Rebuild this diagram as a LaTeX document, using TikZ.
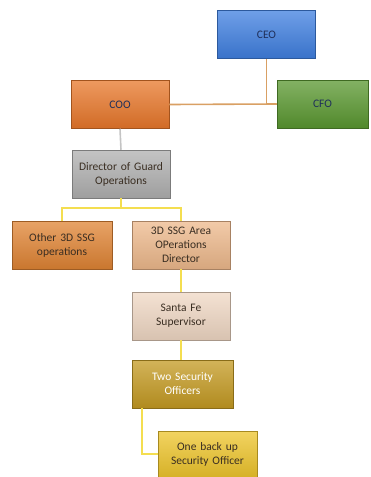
\documentclass[tikz,border=0pt]{standalone}
\usepackage{fontspec}
\setmainfont{Carlito}
\definecolor{ceoc}{HTML}{3F7FE0}
\definecolor{cfoc}{HTML}{5A9830}
\definecolor{cooc}{HTML}{E8772A}
\definecolor{dirc}{HTML}{B0B0B0}
\definecolor{othc}{HTML}{E08434}
\definecolor{areac}{HTML}{EEB98C}
\definecolor{santac}{HTML}{F0D8C4}
\definecolor{twoc}{HTML}{C49A22}
\definecolor{onec}{HTML}{EEC52C}
\definecolor{navy}{HTML}{1F2F5A}
\definecolor{txtd}{HTML}{3A2E22}
\definecolor{linetop}{HTML}{D9A064}
\definecolor{linegray}{HTML}{C4C4C4}
\definecolor{lineyel}{HTML}{F4DE50}
\tikzset{
  box/.style={draw=#1!70!black, line width=0.5pt, top color=#1!75!white, bottom color=#1!90!black,
    minimum width=98pt, minimum height=48pt, inner sep=1pt, align=center,
    font=\fontsize{11.5}{14}\selectfont, text width=96pt},
  conn/.style={line width=1.6pt, draw=#1},
}
\begin{document}
\begin{tikzpicture}[x=1pt,y=-1pt]
\useasboundingbox (0,0) rectangle (370,477);
\coordinate (jd) at (121,208);
\node[box=ceoc, text=navy] (ceo) at (266.5,34.5) {CEO};
\node[box=cfoc, text=navy, minimum width=91pt, text width=88pt] (cfo) at (322.5,104) {CFO};
\node[box=cooc, text=navy] (coo) at (120,104.5) {COO};
\node[box=dirc, text=txtd] (dir) at (121,174) {Director of Guard\\Operations};
\node[box=othc, text=txtd, minimum width=100pt] (oth) at (62,245) {Other 3D SSG\\operations};
\node[box=areac, text=txtd] (area) at (181,245) {3D SSG Area\\OPerations\\Director};
\node[box=santac, text=txtd] (santa) at (181,316) {Santa Fe\\Supervisor};
\node[box=twoc, text=white, minimum width=101pt] (two) at (182.5,384) {Two Security\\Officers};
\node[box=onec, text=txtd, minimum width=99pt, minimum height=46pt] (one) at (207.5,454) {One back up\\Security Officer};
\draw[conn=linetop] (ceo.south) -- (ceo.south |- coo.east);
\draw[conn=linetop] (coo.east) -- (cfo.west);
\draw[conn=linegray] (coo.south) -- (dir.north);
\draw[conn=lineyel] (dir.south) -- (jd);
\draw[conn=lineyel] (oth.north) |- (jd) -| (area.north);
\draw[conn=lineyel] (area.south) -- (santa.north);
\draw[conn=lineyel] (santa.south) -- (santa.south |- two.north);
\draw[conn=lineyel] ([xshift=10pt]two.south west) |- (one.west);
\end{tikzpicture}
\end{document}
